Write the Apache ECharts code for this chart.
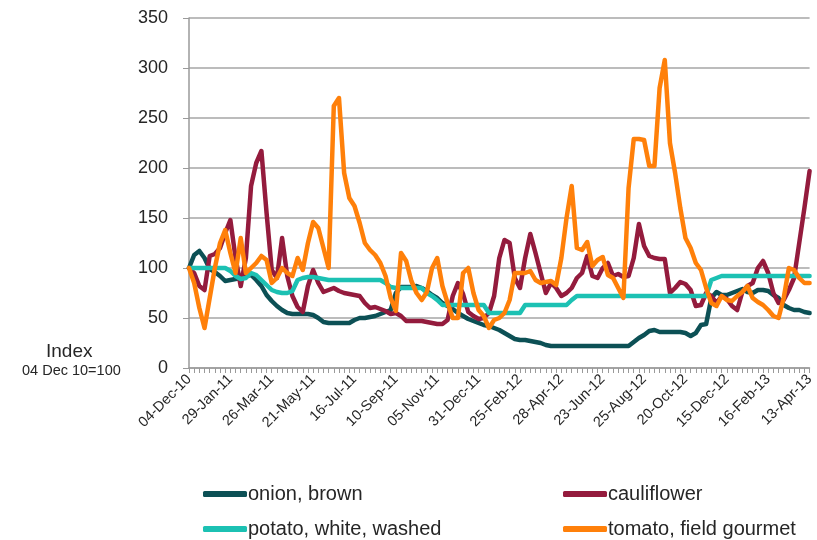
<!DOCTYPE html>
<html>
<head>
<meta charset="utf-8">
<script src="https://cdn.jsdelivr.net/npm/echarts@6/dist/echarts.min.js"></script>
<style>
html,body{margin:0;padding:0;background:#fff;}
#chart{width:817px;height:540px;}
</style>
</head>
<body>
<div id="chart"></div>
<script>
// Weekly dates from 04-Dec-10; a week is missing after these indices
var startDate = [2010, 11, 4];
var skipAfter = [64, 80, 104];
var pointCount = 121;

var onion = [100,113,117,110,99,96,92,87,88,89,90,92,93,88,82,73,67,62,58,55,54,54,54,54,53,50,46,45,45,45,45,45,48,50,50,51,52,54,56,58,75,81,81,81,82,80,77,73,70,65,62,59,55,52,49,47,45,43,42,40,38,35,32,29,28,28,27,26,25,23,22,22,22,22,22,22,22,22,22,22,22,22,22,22,22,22,26,30,33,37,38,36,36,36,36,36,35,32,35,43,44,70,76,73,73,75,77,79,76,75,78,78,77,73,70,63,60,58,58,56,55];
var cauliflower = [100,95,82,78,112,114,120,135,148,110,82,110,182,205,217,155,98,90,130,92,72,61,56,82,98,85,76,78,80,77,75,74,73,72,65,60,61,59,57,54,55,52,47,47,47,47,46,45,44,44,48,72,85,74,56,52,49,50,55,72,110,128,125,90,80,110,134,115,95,75,85,80,72,75,80,90,95,112,92,90,100,105,92,94,91,92,110,144,122,112,110,109,109,75,80,86,84,78,62,63,75,72,65,72,69,62,58,76,82,85,100,107,95,75,65,68,78,90,125,160,197];
var potato = [100,100,100,100,100,100,100,100,97,92,89,90,95,93,88,83,78,76,75,75,77,88,90,91,91,90,89,88,88,88,88,88,88,88,88,88,88,88,85,81,80,80,80,80,80,80,75,72,68,63,63,63,63,63,63,63,63,63,55,55,55,55,55,55,55,63,63,63,63,63,63,63,63,63,68,72,72,72,72,72,72,72,72,72,72,72,72,72,72,72,72,72,72,72,72,72,72,72,72,72,72,88,90,92,92,92,92,92,92,92,92,92,92,92,92,92,92,92,92,92,92];
var tomato = [100,85,60,40,70,100,125,138,115,95,130,95,100,105,112,108,85,90,100,95,92,110,98,125,146,140,120,100,262,270,195,170,162,145,125,118,113,105,92,70,57,115,107,87,75,68,76,100,110,82,65,50,50,95,100,75,58,52,40,48,50,55,68,95,95,95,97,88,85,86,87,83,110,150,182,120,118,126,102,108,111,93,90,80,70,180,229,229,228,202,202,280,308,225,195,160,130,120,105,98,80,65,62,72,68,67,72,76,82,70,66,63,58,52,50,70,100,98,90,85,85];

var yTicks = [0, 50, 100, 150, 200, 250, 300, 350];
var seriesNames = ['onion, brown', 'cauliflower', 'potato, white, washed', 'tomato, field gourmet'];
var seriesColors = ['#0c5055', '#941b3d', '#1cc1b3', '#ff800a'];

var months = ['Jan','Feb','Mar','Apr','May','Jun','Jul','Aug','Sep','Oct','Nov','Dec'];
function fmt(d){
  var dd = d.getDate(); dd = dd < 10 ? '0' + dd : '' + dd;
  var yy = ('' + d.getFullYear()).slice(2);
  return dd + '-' + months[d.getMonth()] + '-' + yy;
}
var categories = [];
var cur = new Date(startDate[0], startDate[1], startDate[2], 12);
for (var i = 0; i < pointCount; i++) {
  categories.push(fmt(cur));
  var step = skipAfter.indexOf(i) >= 0 ? 14 : 7;
  cur = new Date(cur.getTime() + step * 86400000);
}

var FONT = "'Liberation Sans', Arial, sans-serif";
var chart = echarts.init(document.getElementById('chart'), null, {renderer: 'canvas'});
var dataArr = [onion, cauliflower, potato, tomato];
var series = seriesNames.map(function(n, k){
  return {
    name: n, type: 'line', data: dataArr[k], symbol: 'none', smooth: false,
    lineStyle: {width: 4.5, color: seriesColors[k], cap: 'round', join: 'round'},
    itemStyle: {color: seriesColors[k]}
  };
});
function leg(name, left, top){
  return {data: [name], orient: 'horizontal', left: left, top: top, itemGap: 0,
    icon: 'roundRect', itemWidth: 44, itemHeight: 6,
    textStyle: {fontSize: 20, color: '#262626', fontFamily: FONT, padding: [0,0,0,-4]}};
}
chart.setOption({
  animation: false,
  backgroundColor: '#ffffff',
  grid: {left: 189, right: 3, top: 18, bottom: 172, containLabel: false},
  xAxis: {
    type: 'category', data: categories, boundaryGap: false,
    axisLine: {lineStyle: {color: '#9a9a9a', width: 1.5}},
    axisTick: {show: true, interval: 0, length: 5, lineStyle: {color: '#9a9a9a'}},
    axisLabel: {interval: 7, rotate: 45, margin: 9, color: '#262626', fontSize: 14.5, fontFamily: FONT},
    splitLine: {show: false}
  },
  yAxis: {
    type: 'value', min: yTicks[0], max: yTicks[yTicks.length - 1], interval: 50,
    axisLine: {show: true, lineStyle: {color: '#9a9a9a', width: 1.5}},
    axisTick: {show: true, length: 6, lineStyle: {color: '#9a9a9a'}},
    axisLabel: {color: '#262626', fontSize: 18, fontFamily: FONT, margin: 21},
    splitLine: {show: true, lineStyle: {color: '#a6a6a6', width: 1.5}}
  },
  legend: [
    leg(seriesNames[0], 198, 479),
    leg(seriesNames[1], 558, 479),
    leg(seriesNames[2], 198, 514),
    leg(seriesNames[3], 558, 514)
  ],
  graphic: [
    {type: 'text', left: 46, top: 342, style: {text: 'Index', fontSize: 19, fontFamily: FONT, fill: '#262626'}},
    {type: 'text', left: 22, top: 363, style: {text: '04 Dec 10=100', fontSize: 14.5, fontFamily: FONT, fill: '#262626'}}
  ],
  series: series
});
</script>
</body>
</html>
